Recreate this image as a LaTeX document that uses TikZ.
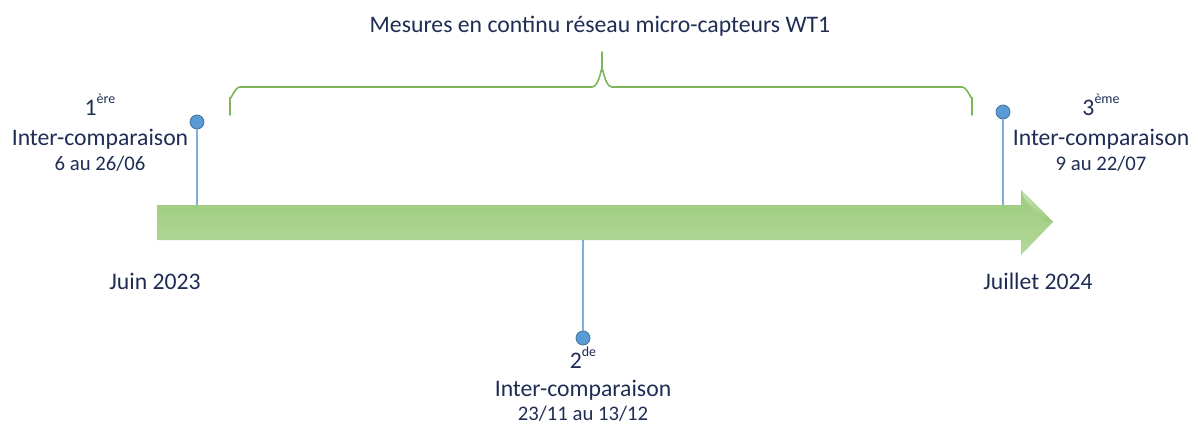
\documentclass[tikz,border=0pt]{standalone}
\usepackage{fontspec}
\setmainfont{Carlito}
\definecolor{navy}{HTML}{1F2D55}
\definecolor{bracegreen}{HTML}{7DB65A}
\definecolor{pinblue}{HTML}{5B9BD5}
\definecolor{pinedge}{HTML}{41719C}
\definecolor{pinline}{HTML}{7FAEDC}
\definecolor{arrtop}{HTML}{9CCB7C}
\definecolor{arrbot}{HTML}{B3D99A}
\newcommand{\supx}[1]{\raisebox{0.5em}{\fontsize{14}{14}\selectfont #1}}
\tikzset{
  lbl/.style={text=navy, anchor=base, inner sep=0pt, font=\fontsize{23.8}{28}\selectfont},
  datelbl/.style={lbl, font=\fontsize{20.8}{24}\selectfont},
  dot/.style={circle, fill=pinblue, draw=pinedge, line width=0.8bp, minimum size=14bp, inner sep=0pt},
  stem/.style={draw=pinline, line width=1.8bp},
  bracestyle/.style={draw=bracegreen, line width=1.6bp},
}
\begin{document}
\begin{tikzpicture}[x=1bp, y=-1bp]
\useasboundingbox (0,0) rectangle (1198,430);
% arrow
\shade[top color=arrtop, bottom color=arrbot] (157,205) -- (1021,205) -- (1021,190) -- (1053,222) -- (1021,255) -- (1021,240) -- (157,240) -- cycle;
\shade[top color=arrbot!70!white, bottom color=arrtop] (1021,190) -- (1053,222) -- (1045,222) -- (1025,200) -- cycle;
\coordinate (a1) at (197,205);
\coordinate (a2) at (583,240);
\coordinate (a3) at (1003,205);
% pins
\node[dot] (p1) at (197,122) {};
\node[dot] (p2) at (583,338) {};
\node[dot] (p3) at (1003,112) {};
\draw[stem] (p1.south) -- (a1);
\draw[stem] (p2.north) -- (a2);
\draw[stem] (p3.south) -- (a3);
% brace
\draw[bracestyle, line cap=round] (230,115) -- (230,97) to[out=-90,in=180] (240,87) -- (592,87) to[out=0,in=90] (602,70) -- (602,52);
\draw[bracestyle, line cap=round] (972,115) -- (972,97) to[out=-90,in=0] (962,87) -- (612,87) to[out=180,in=90] (602,70);
\node[lbl] (title) at (600,32) {Mesures en continu réseau micro-capteurs WT1};
% 1st
\node[lbl] (n1) at (100,115) {1\supx{ère}};
\node[lbl] (i1) at (100,145) {Inter-comparaison};
\node[datelbl] (d1) at (100,170) {6 au 26/06};
% 3rd
\node[lbl] (n3) at (1101,115) {3\supx{ème}};
\node[lbl] (i3) at (1101,145) {Inter-comparaison};
\node[datelbl] (d3) at (1101,170) {9 au 22/07};
% 2nd
\node[lbl] (n2) at (583,368) {2\supx{de}};
\node[lbl] (i2) at (583,396) {Inter-comparaison};
\node[datelbl] (d2) at (583,420) {23/11 au 13/12};
% dates
\node[lbl] (j1) at (155,289) {Juin 2023};
\node[lbl] (j2) at (1038,289) {Juillet 2024};
\end{tikzpicture}
\end{document}
